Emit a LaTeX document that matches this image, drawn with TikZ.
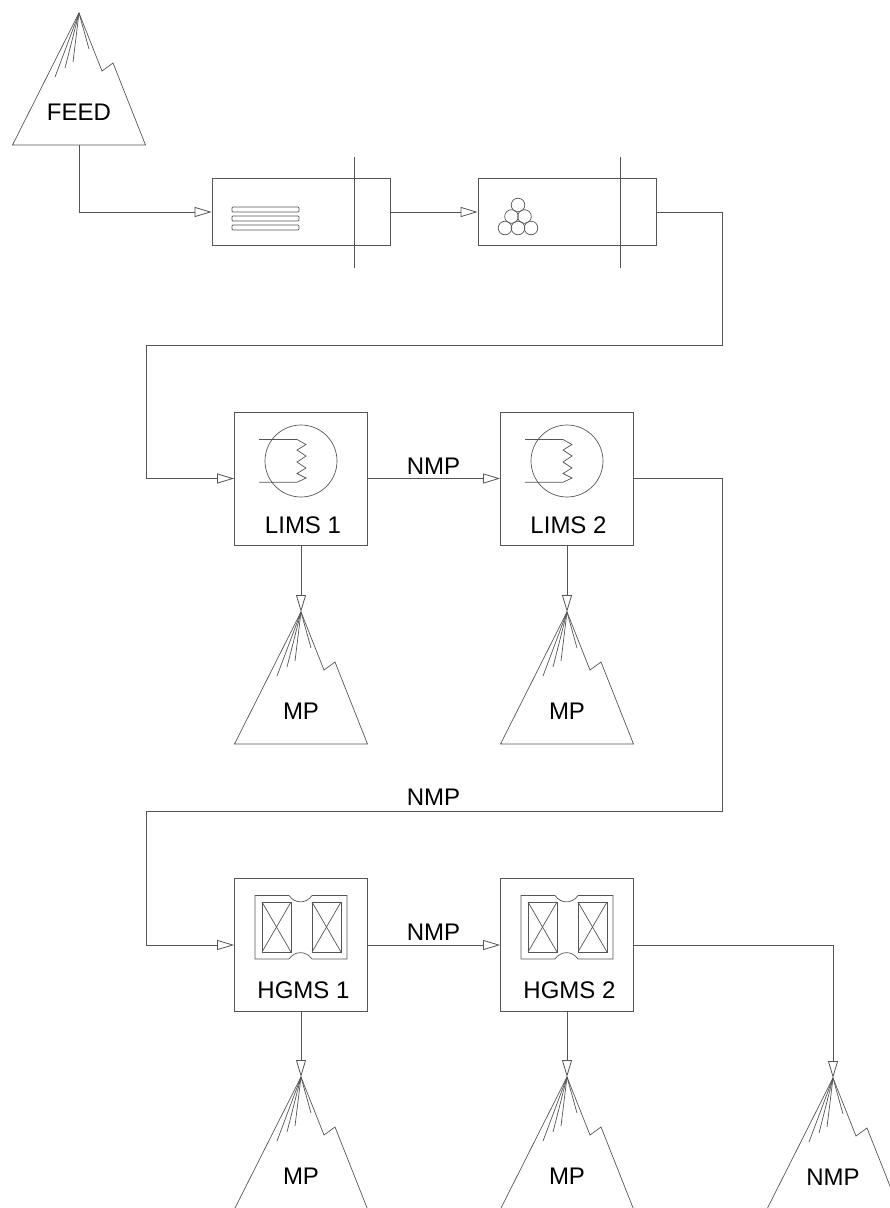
\documentclass[tikz,border=0pt]{standalone}
\usepackage{fontspec}
\setmainfont{Liberation Sans}
\usepackage{tikz}
\usetikzlibrary{arrows.meta,positioning}
\definecolor{linegrey}{HTML}{555555}
\tikzset{
  unitbox/.style={draw=linegrey, line width=0.8pt, minimum width=133pt, minimum height=133pt, inner sep=0pt},
  screenbox/.style={draw=linegrey, line width=0.8pt, minimum width=178pt, minimum height=66.5pt, inner sep=0pt},
  sym/.style={draw=linegrey, line width=0.7pt},
  lbl/.style={font=\fontsize{24}{28}\selectfont, inner sep=0pt},
  arr/.style={-{Triangle[open, length=17pt, width=10pt]}, draw=linegrey, line width=0.8pt},
  pics/pile/.style={code={
    \coordinate (-apex) at (0,0);
    \coordinate (-base) at (0,132);
    \draw[sym] (0,0) -- (-66.5,132) -- (66.5,132) -- (34,50) -- (23,58) -- cycle;
    \foreach \dx/\dy in {-24/64, -14/55, -6/49, 10/36}
      \draw[sym] (0,0) -- (\dx,\dy);
    \node[lbl] (-txt) at (0,99.5) {#1};
  }},
  pics/limssym/.style={code={
    \draw[sym] (0,-17.5) circle (36);
    \draw[sym] (-42,-39) -- (-4,-39) -- (5,-34) -- (-4,-28.5) -- (5,-22.5) -- (-4,-16.5)
      -- (5,-10.5) -- (-4,-5) -- (5,-0.5) -- (-4,3.8) -- (-42,3.8);
  }},
  pics/hgmssym/.style={code={
    \draw[sym] (-46,-49.5) -- (-12,-49.5) .. controls (-6,-41) and (5,-41) .. (11,-49.5) -- (46,-49.5)
      -- (46,14) -- (11,14) .. controls (5,5.5) and (-6,5.5) .. (-12,14) -- (-46,14) -- cycle;
    \foreach \xa/\xb in {-39/-10, 11/40} {
      \draw[sym] (\xa,-43) rectangle (\xb,7);
      \draw[sym] (\xa,-43) -- (\xb,7);
      \draw[sym] (\xa,7) -- (\xb,-43);
    }
  }}
}
\begin{document}
\begin{tikzpicture}[x=1pt, y=-1pt]
    \useasboundingbox (0,0) rectangle (890,1208);
    % piles
    \pic (feed) at (79,13) {pile=FEED};
    \pic (mpa) at (301,612) {pile=MP};
    \pic (mpb) at (567,612) {pile=MP};
    \pic (mpc) at (301,1077) {pile=MP};
    \pic (mpd) at (567,1077) {pile=MP};
    \pic (nmpe) at (833,1078) {pile=NMP};
    % screens
    \node[screenbox] (screena) at (301,212) {};
    \node[screenbox] (screenb) at (567,212) {};
    \draw[sym] (354,157) -- (354,268);
    \draw[sym] (620,157) -- (620,268);
    \foreach \y in {207,216,225}
      \draw[sym, rounded corners=0.8pt] (232,\y) rectangle (299,\y+5);
    \foreach \x/\y in {518/205, 511.5/216.5, 524.5/216.5, 505/228, 518/228, 531/228}
      \draw[sym] (\x,\y) circle (6.8);
    % separators
    \node[unitbox] (lims1) at (301,478.5) {};
    \node[unitbox] (lims2) at (567,478.5) {};
    \node[unitbox] (hgms1) at (301,945) {};
    \node[unitbox] (hgms2) at (567,945) {};
    \pic at (301,478.5) {limssym};
    \pic at (567,478.5) {limssym};
    \pic at (301,945) {hgmssym};
    \pic at (567,945) {hgmssym};
    \node[lbl] (limsa) at (303,525) {LIMS 1};
    \node[lbl] (limsb) at (568.5,525) {LIMS 2};
    \node[lbl] (hgmsa) at (303.5,990) {HGMS 1};
    \node[lbl] (hgmsb) at (569.5,990) {HGMS 2};
    \node[lbl] (nmpa) at (433.5,466) {NMP};
    \node[lbl] (nmpb) at (433.5,797) {NMP};
    \node[lbl] (nmpc) at (433.5,932) {NMP};
    % connectors
    \draw[arr] (feed-base) |- (screena.west);
    \draw[arr] (screena.east) -- (screenb.west);
    \draw[arr] (screenb.east) -- ++(66,0) -- ++(0,133) -- ++(-576,0) |- (lims1.west);
    \draw[arr] (lims1.east) -- (lims2.west);
    \draw[arr] (lims1.south) -- (mpa-apex);
    \draw[arr] (lims2.south) -- (mpb-apex);
    \draw[arr] (lims2.east) -- ++(88,0) -- ++(0,332.5) -- ++(-576,0) |- (hgms1.west);
    \draw[arr] (hgms1.east) -- (hgms2.west);
    \draw[arr] (hgms1.south) -- (mpc-apex);
    \draw[arr] (hgms2.south) -- (mpd-apex);
    \draw[arr] (hgms2.east) -| (nmpe-apex);
  \end{tikzpicture}
\end{document}
